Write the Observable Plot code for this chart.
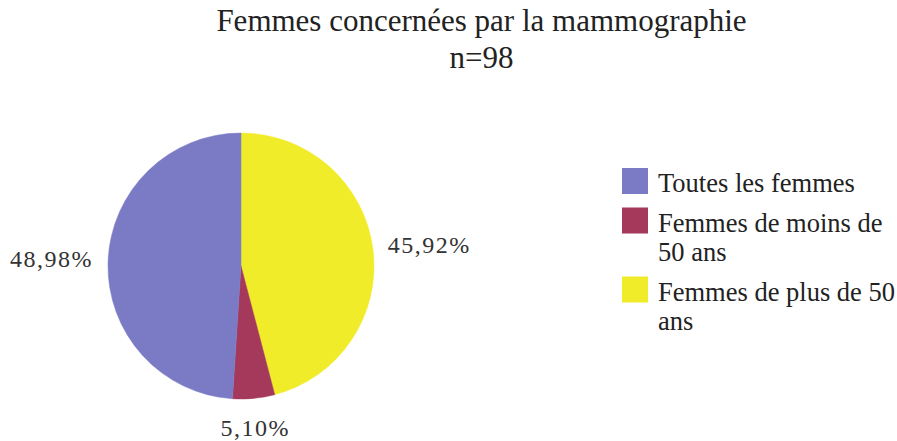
<!DOCTYPE html>
<html>
<head>
<meta charset="utf-8">
<script src="https://cdn.jsdelivr.net/npm/d3@7"></script>
<script src="https://cdn.jsdelivr.net/npm/@observablehq/plot@0.6"></script>
<style>
  html, body { margin: 0; padding: 0; background: #fff; }
  #title { width: 897px; height: 95px; box-sizing: border-box; padding-top: 2px; padding-left: 66px;
    text-align: center; font-family: "Liberation Serif", "DejaVu Serif", serif; font-size: 31px; line-height: 37px; color: #222; }
</style>
</head>
<body>
<div id="title">Femmes concernées par la mammographie<br>n=98</div>
<div id="chart"></div>
<script>
// Data (legend order)
const categories = ["Toutes les femmes", "Femmes de moins de 50 ans", "Femmes de plus de 50 ans"];
const legendLines = [["Toutes les femmes"], ["Femmes de moins de", "50 ans"], ["Femmes de plus de 50", "ans"]];
const values = [48.98, 5.10, 45.92];
const valueLabels = ["48,98%", "5,10%", "45,92%"];
const colors = ["#7b7bc5", "#a5395c", "#f1ec2a"];
// Drawing order of slices, clockwise from 12 o'clock
const sliceOrder = ["Femmes de plus de 50 ans", "Femmes de moins de 50 ans", "Toutes les femmes"];

const table = categories.map((c, i) => ({category: c, value: values[i], label: valueLabels[i], lines: legendLines[i]}));
const color = Plot.scale({color: {type: "ordinal", domain: categories, range: colors}});

const W = 897, H = 346;
const pieLayout = {cx: 241, cy: 171, r: 133, labelR: 148};
const legendLayout = {x: 622, y: 73, box: 26, textX: 658, lineH: 29.5, gap: 10};
const serif = "'Liberation Serif', 'DejaVu Serif', serif";

function pieMark(index, scales, values, dimensions, context) {
  const g = d3.create("svg:g");
  const ordered = sliceOrder.map(c => table.find(d => d.category === c));
  const arcs = d3.pie().sort(null).value(d => d.value)(ordered);
  const arc = d3.arc().innerRadius(0).outerRadius(pieLayout.r);
  const pg = g.append("g").attr("transform", `translate(${pieLayout.cx},${pieLayout.cy})`);
  pg.selectAll("path").data(arcs).join("path")
    .attr("d", arc)
    .attr("fill", d => color.apply(d.data.category))
    .attr("stroke", d => color.apply(d.data.category))
    .attr("stroke-width", 0.5);
  // labels
  pg.selectAll("text").data(arcs).join("text")
    .each(function(d) {
      const a = (d.startAngle + d.endAngle) / 2;
      const s = Math.sin(a), c = -Math.cos(a);
      let x = pieLayout.labelR * s, y = pieLayout.labelR * c;
      let anchor = "middle";
      if (s > 0.5) anchor = "start";
      else if (s < -0.5) anchor = "end";
      else y += (c > 0 ? 17 : -17);
      d3.select(this).attr("x", x).attr("y", y).attr("text-anchor", anchor);
    })
    .attr("dominant-baseline", "middle")
    .attr("font-family", serif)
    .attr("font-size", 24)
    .attr("letter-spacing", "1.5px")
    .attr("fill", "#333")
    .text(d => d.data.label);
  // legend
  const lg = g.append("g").attr("text-anchor", "start");
  let y = legendLayout.y;
  table.forEach(d => {
    lg.append("rect").attr("x", legendLayout.x).attr("y", y)
      .attr("width", legendLayout.box).attr("height", legendLayout.box)
      .attr("fill", color.apply(d.category));
    d.lines.forEach((line, j) => {
      lg.append("text").attr("x", legendLayout.textX).attr("y", y + 24 + j * legendLayout.lineH)
        .attr("text-anchor", "start")
        .attr("font-family", serif).attr("font-size", 26.5).attr("fill", "#222").text(line);
    });
    y += legendLayout.gap + legendLayout.lineH * d.lines.length;
  });
  return g.node();
}

const chart = Plot.plot({
  width: W,
  height: H,
  margin: 0,
  x: {axis: null},
  y: {axis: null},
  style: {background: "#fff", fontFamily: serif},
  marks: [pieMark]
});
document.getElementById("chart").appendChild(chart);
</script>
</body>
</html>
